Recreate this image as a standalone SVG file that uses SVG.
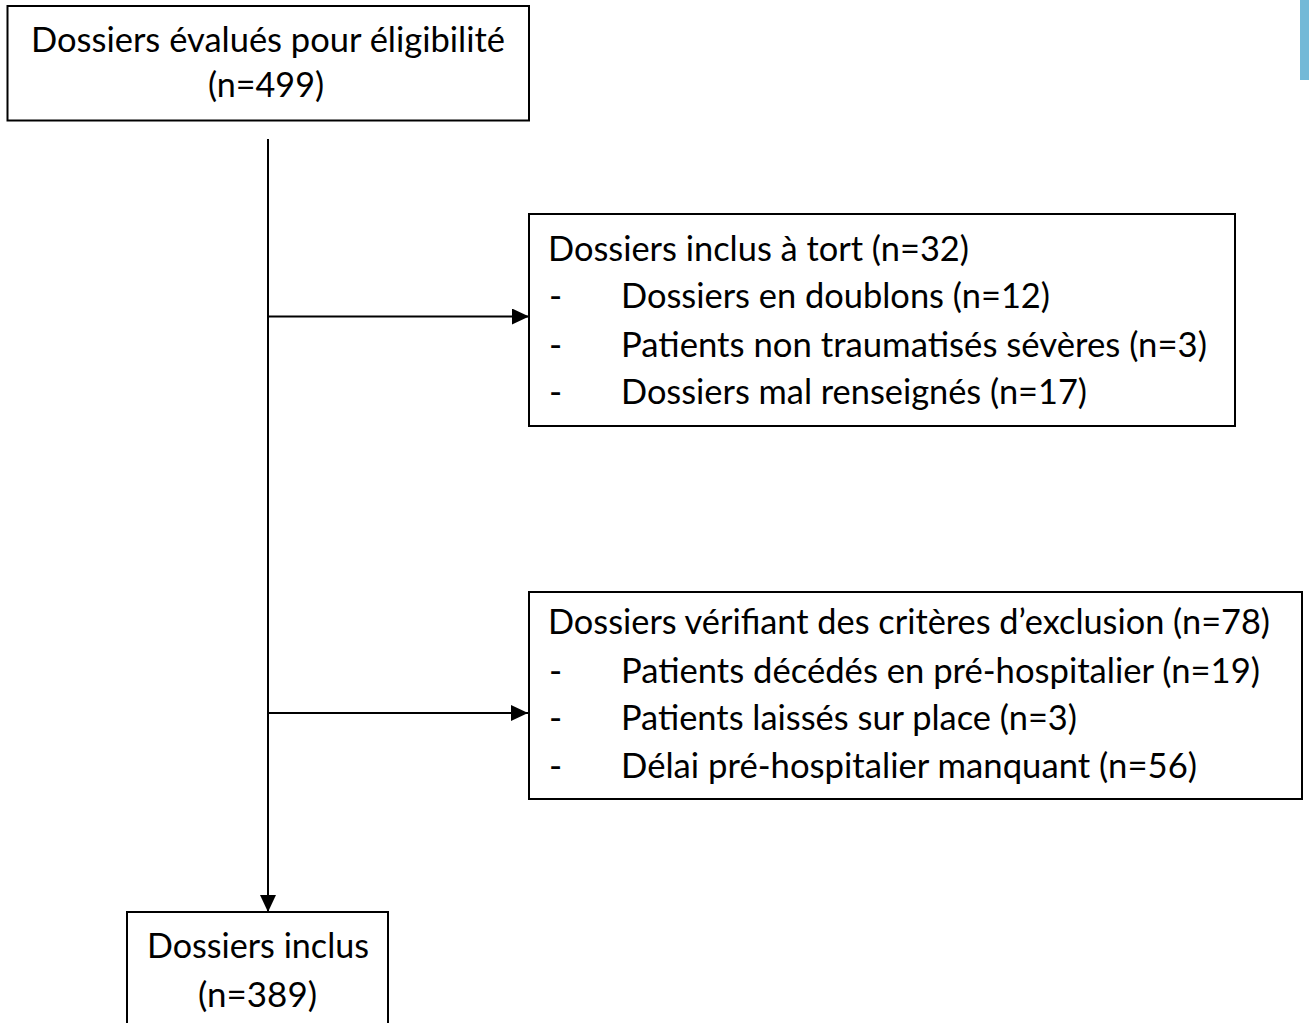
<svg xmlns="http://www.w3.org/2000/svg" width="1309" height="1023" viewBox="0 0 1309 1023">
<style>
.box{fill:#fff;stroke:#000;stroke-width:2}
.t{font-family:Lato,"Open Sans","Liberation Sans",sans-serif;font-size:35.5px;fill:#000}
.c{stroke:#000;stroke-width:2;fill:none}
</style>
<defs>
<marker id="arr" markerUnits="userSpaceOnUse" markerWidth="18" markerHeight="18" viewBox="0 0 18 18" refX="17" refY="8" orient="auto">
<path d="M0,0 L17,8 L0,16 z" fill="#000"/>
</marker>
</defs>
<rect width="1309" height="1023" fill="#fff"/>
<rect x="1300" y="0" width="9" height="80" fill="#73b9d7"/>
<g id="connectors">
<line class="c" x1="268" y1="139" x2="268" y2="912" marker-end="url(#arr)"/>
<line class="c" x1="268" y1="316.5" x2="529" y2="316.5" marker-end="url(#arr)"/>
<line class="c" x1="268" y1="713" x2="528" y2="713" marker-end="url(#arr)"/>
</g>
<g id="node-eligibilite">
<rect class="box" x="7.5" y="6" width="521.5" height="114.5"/>
<text class="t" x="31" y="52" textLength="474" lengthAdjust="spacingAndGlyphs">Dossiers évalués pour éligibilité</text>
<text class="t" x="208" y="97" textLength="116" lengthAdjust="spacingAndGlyphs">(n=499)</text>
</g>
<g id="node-inclus-tort">
<rect class="box" x="529" y="214" width="706" height="212"/>
<text class="t" x="548" y="260.5" textLength="421" lengthAdjust="spacingAndGlyphs">Dossiers inclus à tort (n=32)</text>
<text class="t" x="549" y="308">-</text>
<text class="t" x="621" y="308" textLength="429" lengthAdjust="spacingAndGlyphs">Dossiers en doublons (n=12)</text>
<text class="t" x="549" y="356.5">-</text>
<text class="t" x="621" y="356.5" textLength="586" lengthAdjust="spacingAndGlyphs">Patients non traumatisés sévères (n=3)</text>
<text class="t" x="549" y="404">-</text>
<text class="t" x="621" y="404" textLength="466" lengthAdjust="spacingAndGlyphs">Dossiers mal renseignés (n=17)</text>
</g>
<g id="node-exclusion">
<rect class="box" x="529" y="592" width="773" height="207"/>
<text class="t" x="548" y="634" textLength="722" lengthAdjust="spacingAndGlyphs">Dossiers vérifiant des critères d’exclusion (n=78)</text>
<text class="t" x="549" y="682.5">-</text>
<text class="t" x="621" y="682.5" textLength="639" lengthAdjust="spacingAndGlyphs">Patients décédés en pré-hospitalier (n=19)</text>
<text class="t" x="549" y="730">-</text>
<text class="t" x="621" y="730" textLength="456" lengthAdjust="spacingAndGlyphs">Patients laissés sur place (n=3)</text>
<text class="t" x="549" y="778">-</text>
<text class="t" x="621" y="778" textLength="576" lengthAdjust="spacingAndGlyphs">Délai pré-hospitalier manquant (n=56)</text>
</g>
<g id="node-inclus">
<rect class="box" x="127" y="912" width="261" height="130"/>
<text class="t" x="147" y="958" textLength="222" lengthAdjust="spacingAndGlyphs">Dossiers inclus</text>
<text class="t" x="198" y="1006.5" textLength="119" lengthAdjust="spacingAndGlyphs">(n=389)</text>
</g>
</svg>
